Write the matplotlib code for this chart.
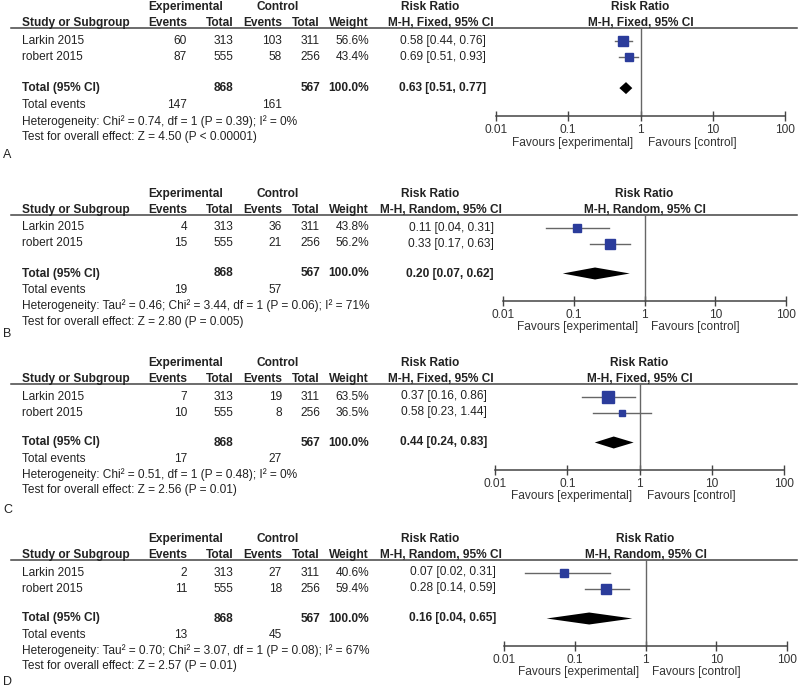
import numpy as np
import matplotlib
matplotlib.use("Agg")
import matplotlib.pyplot as plt

plt.rcParams['font.family'] = ['Liberation Sans', 'DejaVu Sans']

# data for the four forest plots
studies = ["Larkin 2015", "robert 2015"]
panel_labels = ["A", "B", "C", "D"]
methods = ["M-H, Fixed, 95% CI", "M-H, Random, 95% CI", "M-H, Fixed, 95% CI", "M-H, Random, 95% CI"]

exp_events = [[60, 87], [4, 15], [7, 10], [2, 11]]
exp_total = [313, 555]
ctrl_events = [[103, 58], [36, 21], [19, 8], [27, 18]]
ctrl_total = [311, 256]
weights = [[56.6, 43.4], [43.8, 56.2], [63.5, 36.5], [40.6, 59.4]]

rr = [[0.58, 0.69], [0.11, 0.33], [0.37, 0.58], [0.07, 0.28]]
rr_lo = [[0.44, 0.51], [0.04, 0.17], [0.16, 0.23], [0.02, 0.14]]
rr_hi = [[0.76, 0.93], [0.31, 0.63], [0.86, 1.44], [0.31, 0.59]]

tot_rr = [0.63, 0.20, 0.44, 0.16]
tot_lo = [0.51, 0.07, 0.24, 0.04]
tot_hi = [0.77, 0.62, 0.83, 0.65]
tot_exp_events = [147, 19, 17, 13]
tot_ctrl_events = [161, 57, 27, 45]

heterogeneity = [
    "Heterogeneity: Chi² = 0.74, df = 1 (P = 0.39); I² = 0%",
    "Heterogeneity: Tau² = 0.46; Chi² = 3.44, df = 1 (P = 0.06); I² = 71%",
    "Heterogeneity: Chi² = 0.51, df = 1 (P = 0.48); I² = 0%",
    "Heterogeneity: Tau² = 0.70; Chi² = 3.07, df = 1 (P = 0.08); I² = 67%",
]
overall = [
    "Test for overall effect: Z = 4.50 (P < 0.00001)",
    "Test for overall effect: Z = 2.80 (P = 0.005)",
    "Test for overall effect: Z = 2.56 (P = 0.01)",
    "Test for overall effect: Z = 2.57 (P = 0.01)",
]
ticks = [0.01, 0.1, 1, 10, 100]
tick_labels = ["0.01", "0.1", "1", "10", "100"]

# layout (pixels)
W, H = 800, 689
tops = [7, 194, 363, 539]
scales = [1.02, 1.0, 1.0, 1.0]
label_y = [155, 334, 510, 682]
ax_left = [496, 503, 495, 504]
ax_right = [785, 786, 784, 787]
ci_right = [486, 494, 487, 496]
rel = dict(h1=0, h2=16, line=20.5, r1=33.5, r2=49.5, tot=79.5, ev=96,
           het=112, test=127.5, axis=107, tick=119, fav=133)
col_study = 22
col_ee, col_et, col_ce, col_ct, col_w = 187, 233, 282, 320, 369

fs = 8.6
tc = '#222222'
blue = '#2b3c9b'

fig = plt.figure(figsize=(W / 100, H / 100), dpi=100)
tax = fig.add_axes([0, 0, 1, 1])
tax.set_xlim(0, W)
tax.set_ylim(H, 0)
tax.axis('off')

for p in range(4):
    def Y(k):
        return tops[p] + rel[k] * scales[p]
    bold = dict(fontsize=fs, color=tc, fontweight='bold', va='center')
    norm = dict(fontsize=fs, color=tc, va='center')

    # headers
    tax.text(186, Y('h1'), "Experimental", ha='center', **bold)
    tax.text(278, Y('h1'), "Control", ha='center', **bold)
    tax.text(430, Y('h1'), "Risk Ratio", ha='center', **bold)
    tax.text(col_study, Y('h2'), "Study or Subgroup", ha='left', **bold)
    tax.text(col_ee, Y('h2'), "Events", ha='right', **bold)
    tax.text(col_et, Y('h2'), "Total", ha='right', **bold)
    tax.text(col_ce, Y('h2'), "Events", ha='right', **bold)
    tax.text(col_ct, Y('h2'), "Total", ha='right', **bold)
    tax.text(col_w, Y('h2'), "Weight", ha='right', **bold)
    tax.text(441, Y('h2'), methods[p], ha='center', **bold)
    tax.plot([11, 797], [Y('line'), Y('line')], color='#444444', lw=1.1)

    # study rows
    for i, key in enumerate(['r1', 'r2']):
        y = Y(key)
        tax.text(col_study, y, studies[i], ha='left', **norm)
        tax.text(col_ee, y, str(exp_events[p][i]), ha='right', **norm)
        tax.text(col_et, y, str(exp_total[i]), ha='right', **norm)
        tax.text(col_ce, y, str(ctrl_events[p][i]), ha='right', **norm)
        tax.text(col_ct, y, str(ctrl_total[i]), ha='right', **norm)
        tax.text(col_w, y, f"{weights[p][i]:.1f}%", ha='right', **norm)
        tax.text(ci_right[p], y, f"{rr[p][i]:.2f} [{rr_lo[p][i]:.2f}, {rr_hi[p][i]:.2f}]",
                 ha='right', **norm)

    # total rows
    y = Y('tot')
    tax.text(col_study, y, "Total (95% CI)", ha='left', **bold)
    tax.text(col_et, y, str(sum(exp_total)), ha='right', **bold)
    tax.text(col_ct, y, str(sum(ctrl_total)), ha='right', **bold)
    tax.text(col_w, y, "100.0%", ha='right', **bold)
    tax.text(ci_right[p], y, f"{tot_rr[p]:.2f} [{tot_lo[p]:.2f}, {tot_hi[p]:.2f}]",
             ha='right', **bold)
    tax.text(col_study, Y('ev'), "Total events", ha='left', **norm)
    tax.text(col_ee, Y('ev'), str(tot_exp_events[p]), ha='right', **norm)
    tax.text(col_ce, Y('ev'), str(tot_ctrl_events[p]), ha='right', **norm)
    tax.text(col_study, Y('het'), heterogeneity[p], ha='left', **norm)
    tax.text(col_study, Y('test'), overall[p], ha='left', **norm)
    tax.text(3, label_y[p], panel_labels[p], ha='left', fontsize=9, color=tc, va='center')

    # forest plot
    ax = fig.add_axes([ax_left[p] / W, 0, (ax_right[p] - ax_left[p]) / W, 1])
    ax.patch.set_visible(False)
    ax.set_xscale('log')
    ax.set_xlim(0.01, 100)
    ax.set_ylim(H, 0)
    for s in ['top', 'left', 'right']:
        ax.spines[s].set_visible(False)
    ax.spines['bottom'].set_position(('data', Y('axis')))
    ax.spines['bottom'].set_color('#444444')
    ax.spines['bottom'].set_linewidth(1.1)
    ax.set_yticks([])
    ax.set_xticks(ticks)
    ax.set_xticklabels(tick_labels)
    ax.xaxis.set_minor_locator(matplotlib.ticker.NullLocator())
    ax.tick_params(axis='x', direction='inout', length=7, width=1, color='#444444',
                   labelsize=fs, labelcolor='#333333', pad=2)

    ax.text(1, Y('h1'), "Risk Ratio", ha='center', **bold)
    ax.text(1, Y('h2'), methods[p], ha='center', **bold)
    ax.plot([1, 1], [Y('line'), Y('axis')], color='#666666', lw=1)

    for i, key in enumerate(['r1', 'r2']):
        y = Y(key)
        ax.plot([rr_lo[p][i], rr_hi[p][i]], [y, y], color='#666666', lw=1)
        side = weights[p][i] * 0.18
        ax.plot(rr[p][i], y, marker='s', ms=side * 0.72, color=blue, mec=blue, lw=0)

    y = Y('tot')
    hh = 6
    ax.fill([tot_lo[p], tot_rr[p], tot_hi[p], tot_rr[p]], [y, y - hh, y, y + hh],
            color='black', lw=0)

    fav = dict(fontsize=fs, color='#333333', va='center')
    ax.text(0.8, Y('fav'), "Favours [experimental]", ha='right', **fav)
    ax.text(1.25, Y('fav'), "Favours [control]", ha='left', **fav)

fig.savefig("out.png", dpi=100)
